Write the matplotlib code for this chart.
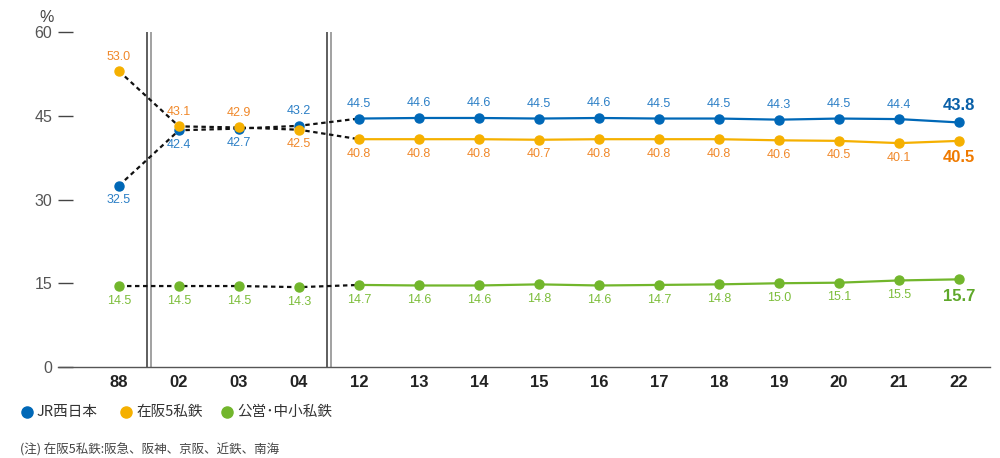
import matplotlib.pyplot as plt
from matplotlib.lines import Line2D

years = ["88", "02", "03", "04", "12", "13", "14", "15", "16", "17", "18", "19", "20", "21", "22"]
jr_west = [32.5, 42.4, 42.7, 43.2, 44.5, 44.6, 44.6, 44.5, 44.6, 44.5, 44.5, 44.3, 44.5, 44.4, 43.8]
osaka5 = [53.0, 43.1, 42.9, 42.5, 40.8, 40.8, 40.8, 40.7, 40.8, 40.8, 40.8, 40.6, 40.5, 40.1, 40.5]
public_small = [14.5, 14.5, 14.5, 14.3, 14.7, 14.6, 14.6, 14.8, 14.6, 14.7, 14.8, 15.0, 15.1, 15.5, 15.7]
yticks = [0, 15, 30, 45, 60]
legend_names = ["JR西日本", "在阪5私鉄", "公営･中小私鉄"]
note = "(注) 在阪5私鉄:阪急、阪神、京阪、近鉄、南海"

# label side per point: +1 above, -1 below
jr_side = [-1, -1, -1, 1] + [1] * 11
os_side = [1, 1, 1, -1] + [-1] * 11
pub_side = [-1] * 15

NUM_FONT = ["Liberation Sans Narrow", "Liberation Sans", "DejaVu Sans"]
JP_FONT = ["Noto Sans CJK JP", "DejaVu Sans"]

fig = plt.figure(figsize=(10, 4.58), dpi=100)
W, H = 1000, 458
ax = fig.add_axes([58 / W, 1 - 367 / H, (990 - 58) / W, (367 - 32) / H])

x = list(range(len(years)))
series = [
    (jr_west, "#0068b7", "#2b7fc6", "#0a60a8", jr_side),
    (osaka5, "#f5b000", "#f0882a", "#ef7a00", os_side),
    (public_small, "#72b62c", "#7cbd3a", "#5fa82a", pub_side),
]

for vals, mcol, lcol, bcol, side in series:
    ax.plot(x[:5], vals[:5], color="#111111", lw=1.6, ls=(0, (2, 1.6)), zorder=2)
    ax.plot(x[4:], vals[4:], color=mcol, lw=1.6, zorder=3)
    ax.plot(x, vals, "o", color=mcol, ms=6.5, zorder=4)
    for i, v in enumerate(vals):
        last = i == len(vals) - 1
        off = 10.5 * side[i] if not last else 12 * side[i]
        ax.annotate(f"{v:.1f}", (i, v), xytext=(0, off), textcoords="offset points",
                    ha="center", va="center", color=bcol if last else lcol,
                    fontsize=12 if last else 9, fontweight="bold" if last else "normal",
                    family=NUM_FONT)

# broken-axis double lines
for xb in (0.5, 3.5):
    for dx, c in ((-0.035, "#333333"), (0.035, "#888888")):
        ax.axvline(xb + dx, color=c, lw=1.1, zorder=1)

ax.set_xlim((58 - 119) / 60, (990 - 119) / 60)
ax.set_ylim(0, 60)
ax.set_yticks(yticks)
ax.set_yticklabels([str(t) for t in yticks], family=NUM_FONT, fontsize=11.5, color="#555555")
ax.set_xticks(x)
ax.set_xticklabels(years, family=NUM_FONT, fontsize=12, fontweight="bold", color="#222222")
ax.tick_params(axis="y", direction="in", length=11, width=1, color="#444444", pad=4)
ax.tick_params(axis="x", length=0, pad=6)
for s in ("top", "right", "left"):
    ax.spines[s].set_visible(False)
ax.spines["bottom"].set_color("#555555")
ax.spines["bottom"].set_linewidth(1)
ax.set_facecolor("none")

fig.text(47 / W, 1 - 18 / H, "%", ha="center", va="center", fontsize=11.5, color="#444444",
         family=NUM_FONT)

# legend
dot_x = [27, 126, 227]
cols = ["#0068b7", "#f5b000", "#72b62c"]
for dx, c, name in zip(dot_x, cols, legend_names):
    fig.add_artist(Line2D([dx / W], [1 - 412 / H], marker="o", ms=8, color=c, lw=0,
                          transform=fig.transFigure))
    fig.text((dx + 10) / W, 1 - 412 / H, name, ha="left", va="center", fontsize=10.5,
             color="#333333", family=JP_FONT)

fig.text(20 / W, 1 - 450 / H, note, ha="left", va="center", fontsize=9,
         color="#444444", family=JP_FONT)

fig.savefig("out.png", dpi=100)
